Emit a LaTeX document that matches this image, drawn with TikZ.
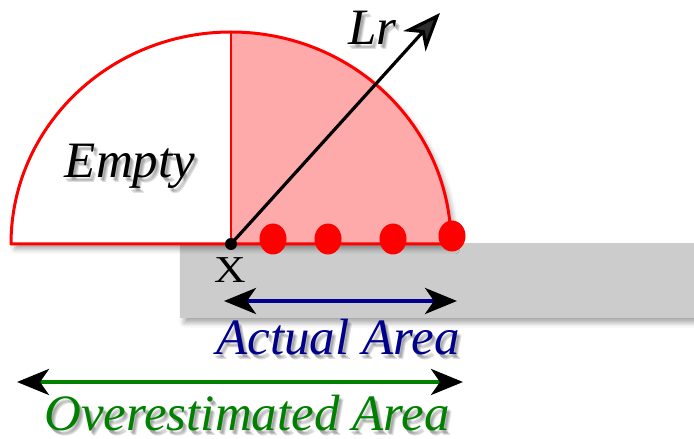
\documentclass[tikz,border=0pt]{standalone}
\usepackage{fontspec}
\setmainfont{Liberation Serif}
\usetikzlibrary{arrows.meta,shadows.blur,shapes.geometric}
\definecolor{pinkfill}{RGB}{255,170,170}
\definecolor{grayband}{RGB}{204,204,204}
\definecolor{navytext}{RGB}{0,0,139}
\definecolor{greentext}{RGB}{0,128,0}
\tikzset{
  lbl/.style={inner sep=0pt, font=\fontsize{51}{60}\selectfont\itshape},
  shd/.style={opacity=0.13, text=black},
  bighead/.style={Stealth[length=32pt,width=26pt,inset=9pt,black]},
  harrow/.style={line width=4pt, {Stealth[length=32pt,width=26pt,inset=9pt,black]}-{Stealth[length=32pt,width=26pt,inset=9pt,black]}},
  reddot/.style={ellipse, fill=red, minimum width=27pt, minimum height=31pt, inner sep=0pt},
  softshadow/.style={blur shadow={shadow xshift=4pt, shadow yshift=-5pt, shadow blur radius=5pt, shadow opacity=35}},
}
\newcommand\shtext[5]{% name, x,y, anchor, style, text
  \foreach \dx/\dy in {2/-3,4/-5,3/-4} {\node[lbl,#4,shd,anchor=#3] at ([shift={(\dx,\dy)}]#2) {#5};}
  \node[lbl,#4,anchor=#3] (#1) at (#2) {#5};
}
\begin{document}
\begin{tikzpicture}[x=1pt,y=1pt]
\useasboundingbox (0,0) rectangle (694,439);
% gray band
\node[fill=grayband, minimum width=514pt, minimum height=75pt, inner sep=0pt, anchor=south west, softshadow] (band) at (180,121) {};
% semi-ellipse
\coordinate (c) at (231,195);
\coordinate (top) at (231,407);
\path[fill=white, softshadow] (11,195) arc[start angle=180, end angle=0, x radius=220, y radius=212] -- cycle;
\fill[pinkfill] (c) -- (451,195) arc[start angle=0, end angle=90, x radius=220, y radius=212] -- cycle;
\draw[red, line width=3pt, line join=round] (11,195) arc[start angle=180, end angle=0, x radius=220, y radius=212] -- cycle;
\draw[red, line width=2pt] (c) -- (top);
% dots
\node[reddot] (d1) at (273,200) {};
\node[reddot] (d2) at (328,200) {};
\node[reddot] (d3) at (393,200) {};
\node[reddot] (d4) at (452,203) {};
% Lr arrow
\node[circle, fill=black, inner sep=0pt, minimum size=12pt] (xdot) at (c) {};
\coordinate (lrtip) at (440,426);
\draw[line width=3.2pt, -{Stealth[length=38pt,width=30pt,inset=11pt]}] (xdot.center) -- (lrtip);
% labels
\shtext{lr}{348,394}{base west}{}{Lr}
\shtext{empty}{130,261}{base}{}{Empty}
\node[inner sep=0pt, anchor=base, font=\fontsize{38}{40}\selectfont, xscale=1.15] (xlbl) at (230,156) {X};
% actual area arrow
\coordinate (aL) at (224,138);
\coordinate (aR) at (457,138);
\draw[harrow, navytext] (aL) -- (aR);
\shtext{actual}{338,84}{base}{text=navytext}{Actual Area}
% overestimated arrow
\coordinate (oL) at (17,57);
\coordinate (oR) at (463,57);
\draw[harrow, greentext] (oL) -- (oR);
\shtext{over}{247,8}{base}{text=greentext}{Overestimated Area}
\end{tikzpicture}
\end{document}
